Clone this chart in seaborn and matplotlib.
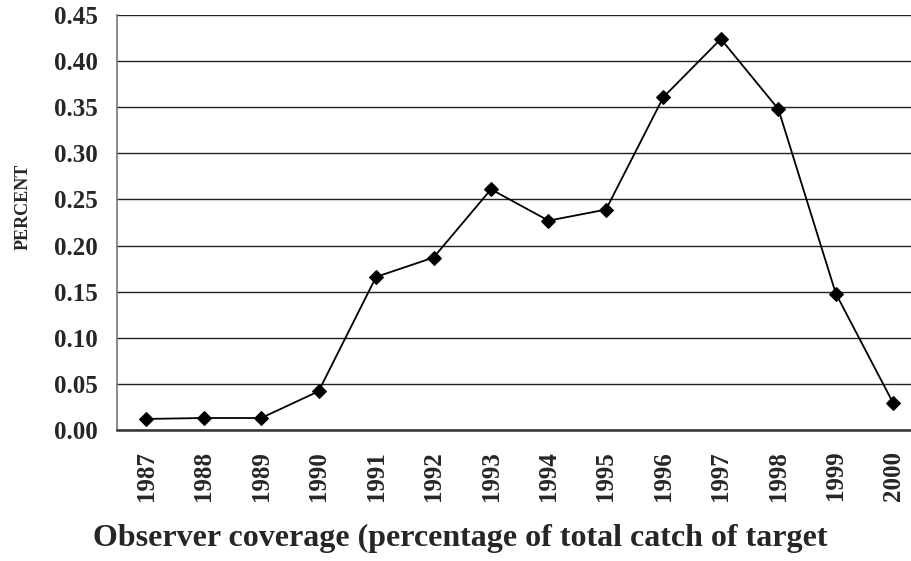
import matplotlib
matplotlib.use("Agg")
import matplotlib.pyplot as plt
import seaborn as sns
import pandas as pd
import numpy as np

years = ["1987", "1988", "1989", "1990", "1991", "1992", "1993",
         "1994", "1995", "1996", "1997", "1998", "1999", "2000"]
percent = [0.012, 0.013, 0.013, 0.042, 0.166, 0.187, 0.261,
           0.227, 0.239, 0.361, 0.424, 0.348, 0.148, 0.029]
yticks = [0.00, 0.05, 0.10, 0.15, 0.20, 0.25, 0.30, 0.35, 0.40, 0.45]

sns.set_style("white")
plt.rcParams['font.family'] = ['Liberation Serif', 'DejaVu Serif']
plt.rcParams['font.weight'] = 'bold'

df = pd.DataFrame({"pos": np.arange(len(years)), "percent": percent})

W, H = 911, 561
fig = plt.figure(figsize=(W / 100, H / 100), dpi=100)
left, right, top, bottom = 117.5, 922, 15, 430
ax = fig.add_axes([left / W, 1 - bottom / H, (right - left) / W, (bottom - top) / H])

sns.lineplot(data=df, x="pos", y="percent", ax=ax, color="black", linewidth=1.3,
             marker="D", markersize=6.8, markeredgecolor="black", markerfacecolor="black")

ax.set_xlim(-0.5, len(years) - 0.5)
ax.set_ylim(0, 0.45)
ax.set_yticks(yticks)
ax.set_yticklabels([f"{v:.2f}" for v in yticks], fontsize=18, fontweight="bold")
ax.set_xticks(np.arange(len(years)))
ax.set_xticklabels(years, rotation=90, fontsize=18, fontweight="bold")
ax.tick_params(axis="y", length=0, pad=14)
ax.tick_params(axis="x", length=0, pad=15)

ax.yaxis.grid(True, color="#222222", linewidth=1.0)
ax.set_axisbelow(True)
for s in ["top", "right"]:
    ax.spines[s].set_visible(False)
ax.spines["left"].set_color("#777777")
ax.spines["left"].set_linewidth(1.2)
ax.spines["bottom"].set_color("#333333")
ax.spines["bottom"].set_linewidth(1.8)
ax.axhline(0.45, color="#888888", linewidth=1.2, zorder=0)

ax.set_xlabel("")
ax.set_ylabel("")
fig.text(23 / W, 1 - 207 / H, "PERCENT", rotation=90, fontsize=13, fontweight="bold",
         ha="center", va="center")
fig.text(460 / W, 1 - 538 / H, "Observer coverage (percentage of total catch of target",
         fontsize=23, fontweight="bold", ha="center", va="center")

fig.savefig("out.png", dpi=100)
